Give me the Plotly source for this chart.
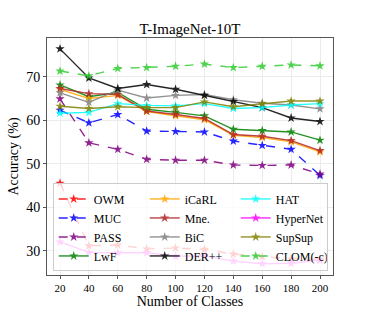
import plotly.graph_objects as go

classes = [20, 40, 60, 80, 100, 120, 140, 160, 180, 200]

owm      = [45.5, 31.1, 31.3, 30.4, 30.6, 30.3, 29.2, 28.6, 28.1, 28.0]
muc      = [62.3, 59.4, 61.3, 57.5, 57.4, 57.3, 55.2, 54.2, 53.3, 47.3]
pass_    = [64.9, 54.8, 53.3, 51.0, 50.8, 50.8, 49.7, 49.6, 49.7, 47.6]
lwf      = [68.1, 65.4, 66.4, 62.5, 61.8, 61.0, 57.9, 57.6, 57.3, 55.4]
icarl    = [67.1, 65.0, 65.7, 62.0, 61.0, 60.1, 56.5, 56.0, 55.0, 52.7]
mne      = [67.3, 66.1, 65.9, 62.1, 61.3, 60.4, 56.7, 56.3, 55.3, 53.0]
bic      = [66.3, 64.1, 66.9, 65.1, 65.7, 65.9, 64.7, 63.9, 63.5, 62.6]
derpp    = [76.4, 69.7, 67.3, 68.2, 67.1, 65.7, 64.3, 62.9, 60.5, 59.7]
hat      = [61.6, 61.8, 63.8, 63.4, 63.3, 63.8, 62.7, 62.9, 63.5, 63.8]
hypernet = [32.0, 29.6, 29.5, 29.5, 28.7, 28.8, 27.6, 27.0, 27.1, 27.8]
supsup   = [63.2, 62.7, 63.1, 62.9, 62.9, 64.2, 63.1, 63.8, 64.4, 64.4]
clom     = [71.3, 70.2, 71.9, 72.1, 72.4, 72.9, 72.1, 72.4, 72.7, 72.5]

series = [
    ("OWM", owm, "#ff0000", "dash"),
    ("MUC", muc, "#0000ff", "dash"),
    ("PASS", pass_, "#800080", "dash"),
    ("LwF", lwf, "#008000", "solid"),
    ("iCaRL", icarl, "#ffa500", "solid"),
    ("Mne.", mne, "#b22222", "solid"),
    ("BiC", bic, "#808080", "solid"),
    ("DER++", derpp, "#000000", "solid"),
    ("HAT", hat, "#00ffff", "solid"),
    ("HyperNet", hypernet, "#ff00ff", "solid"),
    ("SupSup", supsup, "#808000", "solid"),
    ("CLOM(-c)", clom, "#32cd32", "dash"),
]

fig = go.Figure()
for i, (name, vals, color, dash) in enumerate(series):
    col, row = divmod(i, 4)
    fig.add_trace(go.Scatter(
        x=classes, y=vals, name=name, mode="lines+markers",
        line=dict(color=color, width=1.4, dash=dash),
        marker=dict(symbol="star", size=7, color=color),
        opacity=0.85,
        legendrank=row * 3 + col + 1,
    ))

font_family = "Liberation Serif, Times New Roman, serif"
fig.update_layout(
    width=371, height=318,
    margin=dict(l=46, r=38, t=38, b=35),
    paper_bgcolor="white", plot_bgcolor="white",
    font=dict(family=font_family, color="black"),
    title=dict(text="T-ImageNet-10T", x=0.5, xanchor="center",
               xref="paper", y=0.91, yref="container", yanchor="middle",
               font=dict(size=15, family=font_family)),
    showlegend=True,
    legend=dict(orientation="h", x=0.02, y=0.015, xanchor="left", yanchor="bottom",
                bgcolor="rgba(255,255,255,0.8)", bordercolor="#cccccc", borderwidth=1,
                entrywidth=46, entrywidthmode="pixels", itemwidth=30,
                font=dict(size=12, family=font_family), tracegroupgap=0),
)
fig.update_xaxes(
    range=[11, 209], tickvals=classes, ticktext=[str(c) for c in classes],
    showgrid=True, gridcolor="#ebebeb", gridwidth=1, zeroline=False,
    showline=True, linecolor="#555555", linewidth=1, mirror=True,
    ticks="outside", ticklen=3, tickcolor="#555555",
    tickfont=dict(size=11, family=font_family),
    title=dict(text="Number of Classes", font=dict(size=14, family=font_family), standoff=2),
)
fig.update_yaxes(
    range=[24.4, 78.9], tickvals=[30, 40, 50, 60, 70],
    showgrid=True, gridcolor="#ebebeb", gridwidth=1, zeroline=False,
    showline=True, linecolor="#555555", linewidth=1, mirror=True,
    ticks="outside", ticklen=3, tickcolor="#555555",
    tickfont=dict(size=14, family=font_family),
    title=dict(text="Accuracy (%)", font=dict(size=14, family=font_family), standoff=4),
)
fig.write_html("out.html", config={"displayModeBar": False},
               post_script="document.body.style.margin='0px';")
